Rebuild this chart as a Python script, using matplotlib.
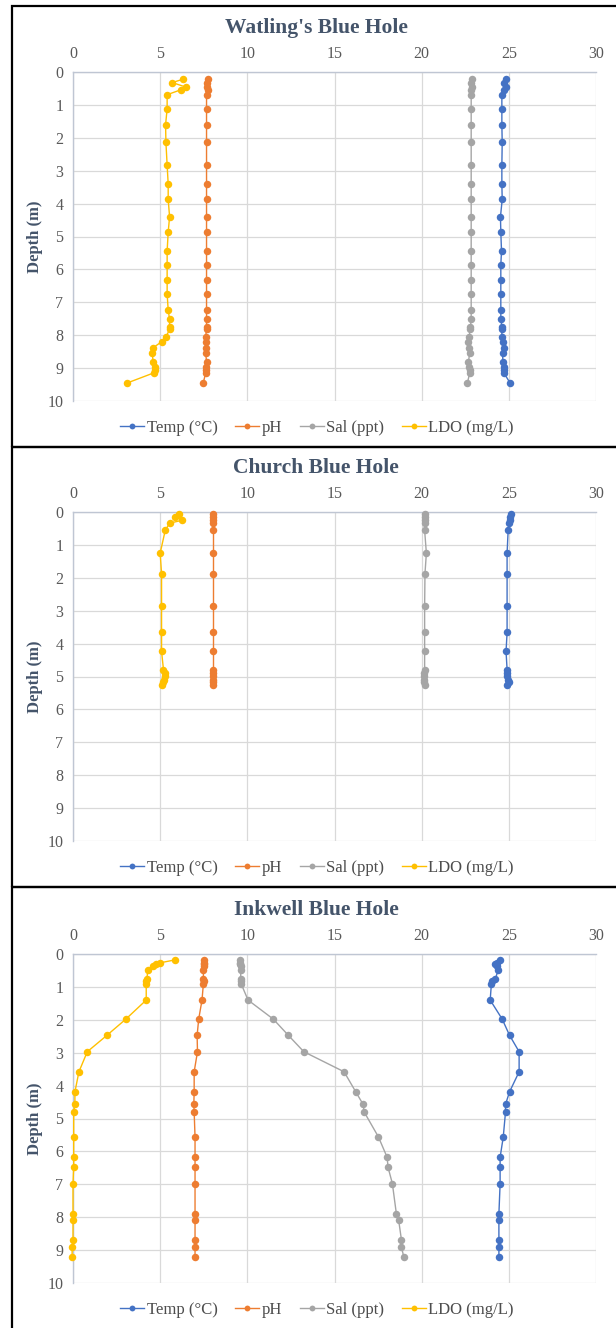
import matplotlib
matplotlib.use("Agg")
import matplotlib.pyplot as plt
from matplotlib.patches import Rectangle
from matplotlib.lines import Line2D

plt.rcParams['font.family'] = ['Liberation Serif', 'DejaVu Serif']

# Watling's Blue Hole
watling_depth = [0.22, 0.32, 0.46, 0.54, 0.69, 1.12, 1.60, 2.14, 2.83, 3.41, 3.87, 4.40, 4.87, 5.44, 5.86,
                 6.32, 6.74, 7.24, 7.51, 7.74, 7.82, 8.05, 8.20, 8.38, 8.54, 8.81, 8.96, 9.06, 9.14, 9.46]
watling_temp = [24.81, 24.71, 24.85, 24.75, 24.60, 24.60, 24.60, 24.62, 24.60, 24.60, 24.62, 24.52, 24.54, 24.58, 24.54,
                24.54, 24.54, 24.54, 24.54, 24.60, 24.60, 24.60, 24.66, 24.75, 24.64, 24.66, 24.71, 24.71, 24.71, 25.08]
watling_ph = [7.72, 7.66, 7.66, 7.72, 7.66, 7.66, 7.66, 7.66, 7.66, 7.66, 7.66, 7.66, 7.66, 7.66, 7.66,
              7.66, 7.66, 7.66, 7.66, 7.66, 7.66, 7.61, 7.61, 7.61, 7.61, 7.66, 7.61, 7.61, 7.61, 7.47]
watling_sal = [22.87, 22.84, 22.87, 22.84, 22.84, 22.84, 22.84, 22.84, 22.84, 22.84, 22.84, 22.84, 22.84, 22.84, 22.84,
               22.84, 22.84, 22.84, 22.84, 22.80, 22.76, 22.74, 22.68, 22.70, 22.76, 22.68, 22.72, 22.78, 22.76, 22.62]
watling_ldo = [6.32, 5.69, 6.48, 6.19, 5.40, 5.40, 5.31, 5.33, 5.40, 5.46, 5.46, 5.54, 5.46, 5.40, 5.40,
               5.40, 5.40, 5.46, 5.54, 5.54, 5.54, 5.34, 5.08, 4.60, 4.54, 4.60, 4.71, 4.71, 4.66, 3.07]

# Church Blue Hole
church_depth = [0.07, 0.14, 0.25, 0.34, 0.56, 1.25, 1.87, 2.86, 3.66, 4.24, 4.79, 4.89, 4.99, 5.10, 5.18, 5.26]
church_temp = [25.13, 25.09, 25.09, 25.02, 24.96, 24.90, 24.90, 24.90, 24.90, 24.84, 24.90, 24.90, 24.90, 24.94, 25.00, 24.90]
church_ph = [8.04, 8.04, 8.04, 8.04, 8.04, 8.04, 8.04, 8.04, 8.04, 8.04, 8.04, 8.04, 8.04, 8.04, 8.04, 8.04]
church_sal = [20.17, 20.17, 20.17, 20.17, 20.17, 20.27, 20.19, 20.17, 20.17, 20.17, 20.17, 20.15, 20.15, 20.15, 20.13, 20.17]
church_ldo = [6.10, 5.87, 6.27, 5.54, 5.29, 5.00, 5.08, 5.08, 5.08, 5.08, 5.19, 5.25, 5.27, 5.23, 5.15, 5.08]

# Inkwell Blue Hole
inkwell_depth = [0.18, 0.27, 0.29, 0.37, 0.48, 0.76, 0.83, 0.90, 1.40, 1.98, 2.47, 2.97, 3.58, 4.19, 4.57,
                 4.80, 5.56, 6.18, 6.48, 6.98, 7.90, 8.09, 8.69, 8.90, 9.20]
inkwell_temp = [24.50, 24.30, 24.20, 24.30, 24.40, 24.22, 24.05, 24.00, 23.93, 24.62, 25.04, 25.59, 25.59, 25.04, 24.81,
                24.81, 24.68, 24.50, 24.50, 24.50, 24.43, 24.43, 24.43, 24.43, 24.43]
inkwell_ph = [7.54, 7.54, 7.54, 7.50, 7.48, 7.48, 7.50, 7.48, 7.40, 7.21, 7.12, 7.14, 6.95, 6.95, 6.93,
              6.95, 7.00, 7.00, 7.00, 7.00, 7.00, 7.00, 7.00, 7.00, 7.00]
inkwell_sal = [9.58, 9.58, 9.60, 9.62, 9.62, 9.62, 9.64, 9.64, 10.04, 11.49, 12.35, 13.24, 15.55, 16.22, 16.64,
               16.70, 17.52, 18.02, 18.07, 18.32, 18.55, 18.68, 18.84, 18.84, 18.97]
inkwell_ldo = [5.84, 4.98, 4.74, 4.58, 4.29, 4.24, 4.20, 4.20, 4.20, 3.03, 1.95, 0.82, 0.34, 0.11, 0.11,
               0.04, 0.04, 0.04, 0.04, 0.00, 0.00, 0.00, 0.00, -0.05, -0.05]

series_names = ['Temp (°C)', 'pH', 'Sal (ppt)', 'LDO (mg/L)']
series_colors = ['#4472C4', '#ED7D31', '#A5A5A5', '#FFC000']
x_ticks = [0, 5, 10, 15, 20, 25, 30]
y_ticks = [0, 1, 2, 3, 4, 5, 6, 7, 8, 9, 10]

W, H = 616, 1328
fig = plt.figure(figsize=(W / 100, H / 100), dpi=100)

TITLE_C = '#44546A'
TICK_C = '#595959'
GRID_C = '#D9D9D9'


def px_box(left, top, right, bottom):
    return [left / W, 1 - bottom / H, (right - left) / W, (bottom - top) / H]


def draw_panel(top, title, depth, temp, ph, sal, ldo, box):
    # black frame around each chart
    bx0, by0, bx1, by1 = box
    fig.patches.append(Rectangle((bx0 / W, 1 - by1 / H), (bx1 - bx0) / W, (by1 - by0) / H,
                                 transform=fig.transFigure, fill=False, edgecolor='black',
                                 linewidth=1.6, zorder=0))

    ax = fig.add_axes(px_box(73, top, 596, top + 329))
    for vals, c in zip([temp, ph, sal, ldo], series_colors):
        ax.plot(vals, depth, color=c, marker='o', markersize=5.4, linewidth=1.0,
                markeredgewidth=0, clip_on=False, zorder=3)
    ax.set_xlim(0, 30)
    ax.set_ylim(10, 0)
    ax.set_xticks(x_ticks)
    ax.set_yticks(y_ticks)
    ax.xaxis.tick_top()
    ax.tick_params(length=0, labelsize=11.5, labelcolor=TICK_C, pad=7)
    ax.grid(True, color=GRID_C, linewidth=0.9)
    ax.set_axisbelow(True)
    for s in ['right', 'bottom']:
        ax.spines[s].set_visible(False)
    for s in ['top', 'left']:
        ax.spines[s].set_color('#BFC6D3')
        ax.spines[s].set_linewidth(1.0)

    fig.text(316 / W, 1 - (top - 44) / H, title, ha='center', va='center',
             fontsize=15.5, fontweight='bold', color=TITLE_C)
    fig.text(35 / W, 1 - (top + 165) / H, 'Depth (m)', ha='center', va='center',
             rotation=90, fontsize=12, fontweight='bold', color=TITLE_C)

    handles = [Line2D([], [], color=c, marker='o', markersize=4.2, linewidth=1.0,
                      markeredgewidth=0) for c in series_colors]
    fig.legend(handles, series_names, loc='center', ncol=4,
               bbox_to_anchor=(317 / W, 1 - (top + 356) / H), frameon=False,
               fontsize=12, labelcolor='#4D4D4D', handlelength=1.45, handletextpad=0.15,
               columnspacing=1.05)
    return ax


draw_panel(72, "Watling's Blue Hole", watling_depth, watling_temp, watling_ph, watling_sal, watling_ldo,
           (12, 6, 630, 447))
draw_panel(512, "Church Blue Hole", church_depth, church_temp, church_ph, church_sal, church_ldo,
           (12, 447, 630, 887))
draw_panel(954, "Inkwell Blue Hole", inkwell_depth, inkwell_temp, inkwell_ph, inkwell_sal, inkwell_ldo,
           (12, 887, 630, 1340))

fig.savefig("out.png", dpi=100)
